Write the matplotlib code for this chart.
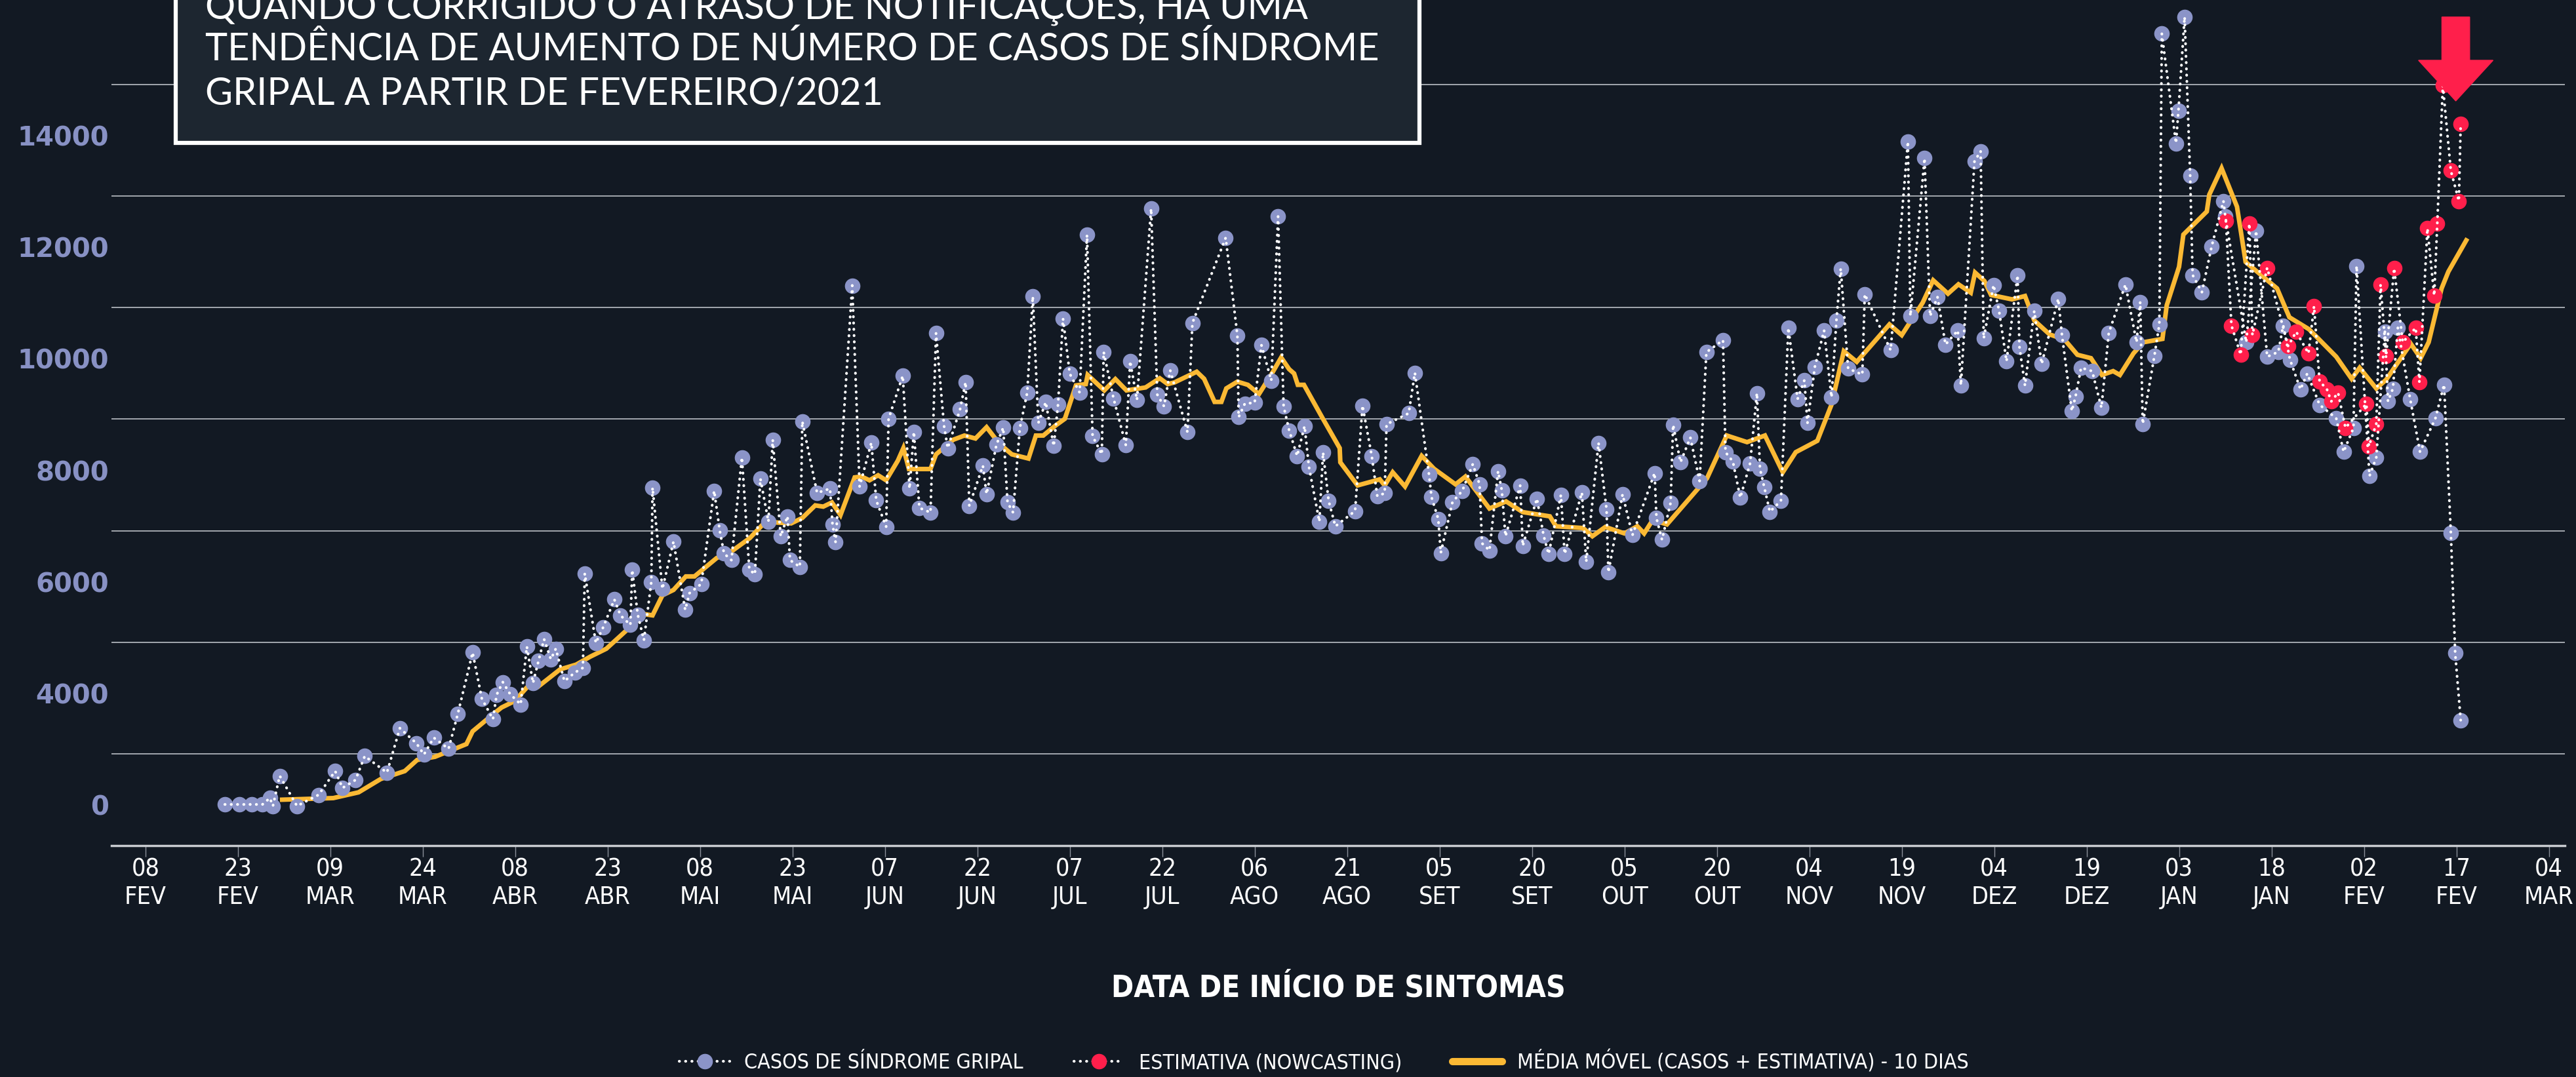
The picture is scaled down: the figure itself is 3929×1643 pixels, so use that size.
import datetime as dt
import numpy as np
import matplotlib
matplotlib.use("Agg")
import matplotlib.pyplot as plt
import matplotlib.dates as mdates
from matplotlib.lines import Line2D
from matplotlib.patches import Rectangle, FancyArrow
from matplotlib.font_manager import FontProperties

# dias contados a partir de 08/02/2020
inicio = dt.date(2020, 2, 8)

casos_dia = [12.9, 15.2, 17.3, 19.0, 20.2, 20.7, 21.8, 24.6, 28.1, 30.8, 32.0, 34.1, 35.6, 39.2, 41.3,
             44.0, 45.2, 46.8, 49.2, 50.7, 53.1, 54.6, 56.4, 57.0, 58.0, 59.2, 60.9, 61.9, 62.9, 63.8,
             64.7, 65.8, 66.6, 68.0, 69.7, 71.0, 71.3, 73.1, 74.3, 76.1, 77.1, 78.7, 79.0, 79.9, 80.9,
             82.1, 82.3, 83.9, 85.7, 87.6, 88.3,
             90.2, 92.3, 93.2, 93.9, 95.1, 96.8, 98.0, 98.9, 99.8, 101.1, 101.8, 103.1, 104.2, 104.6,
             106.2, 106.6, 109.0, 111.1, 111.5, 112.0, 114.7, 115.9, 117.8, 118.6, 120.2, 120.6, 122.9,
             124.0, 124.7, 125.6, 127.4, 128.3, 129.6, 130.2, 132.2, 133.1, 133.7, 135.9, 136.5, 138.1,
             139.2, 139.9, 140.8, 141.9, 143.1, 144.0, 144.9, 146.1, 147.4, 148.1, 148.9, 150.0, 151.6,
             152.8, 153.7, 155.2, 155.5, 157.1, 159.1, 159.8, 160.9, 163.2, 164.2, 165.3, 166.3,
             169.1, 169.9, 175.3, 177.2, 177.4, 178.4, 180.0, 181.1, 182.7, 183.8, 184.7, 185.6, 186.9,
             188.1, 188.8, 190.5, 191.1, 192.0, 193.1, 196.3, 197.5, 199.0, 199.9, 201.1, 201.4, 205.0,
             206.0, 208.3, 208.7, 209.8, 210.2, 212.1, 213.7, 215.4, 216.5, 216.9, 218.1, 219.5, 220.1,
             220.7, 223.1, 223.5, 225.8, 226.9, 227.7, 229.7, 230.3, 233.1, 233.8, 235.8, 237.1, 237.4,
             239.7, 241.3, 244.9, 245.2, 246.1,
             247.5, 247.9, 249.1, 250.7, 252.2, 253.3, 256.0, 256.4, 257.6, 258.8, 260.4, 261.5, 262.0,
             262.7, 263.6, 265.4, 266.6, 268.1, 269.2, 269.7, 270.9, 272.4, 273.6, 274.4, 275.1, 276.3,
             278.6, 279.0, 283.2, 286.0, 286.4, 288.7, 289.6, 290.8, 292.1, 294.1, 294.6, 296.8, 297.8,
             298.3, 299.9, 300.8, 302.0, 303.8, 304.1, 305.0, 306.5, 307.7, 310.4, 311.0,
             312.6, 313.2, 314.1, 315.9, 317.4, 318.6, 321.3, 323.1, 323.7, 324.1, 326.0, 326.8, 327.2,
             329.5, 329.9, 330.9, 331.8, 332.2, 333.7, 335.3, 337.2, 337.5, 340.9, 342.5, 344.3, 346.1,
             346.9, 348.0, 349.7, 350.8, 352.8, 355.5, 356.7, 358.3, 358.8, 360.9, 362.0, 363.4, 363.9,
             364.7, 365.5, 367.5, 369.1, 371.6, 373.0, 374.1, 374.8, 375.7]
casos_valor = [2013, 2013, 2013, 2013, 2127, 1985, 2526, 1985, 2184, 2611, 2309, 2452, 2879, 2583, 3380,
               3107, 2907, 3209, 3010, 3636, 4736, 3910, 3540, 3978, 4206, 3989, 3807, 4844, 4189, 4588,
               4975, 4616, 4804, 4223, 4377, 4462, 6154, 4907, 5191, 5687, 5402, 5231, 6217, 5414, 4958,
               6000, 7692, 5875, 6724, 5500, 5800,
               5965, 7636, 6924, 6511, 6392, 8235, 6227, 6137, 7853, 7081, 8550, 6819, 7179, 6392,
               6272, 8880, 7598, 7673, 7036, 6714, 11315, 7711, 8497, 7463, 6991, 8925, 9697,
               7673, 8692, 7328, 7246, 10461, 8797, 8400, 9097, 9584, 7366, 8085, 7576, 8460,
               8767, 7426, 7246, 8760, 9397, 11120, 8850, 9225, 8437, 9187, 10723, 9734, 9397,
               12222, 8617, 8288, 10124, 9292, 8452, 9959, 9262, 12694, 9359, 9149, 9794,
               8686, 10642, 12170, 10419, 8954, 9196, 9215, 10247, 9610, 12552, 9151, 8718, 8260,
               8795, 8069, 7082, 8323, 7457, 6999, 7273, 9164, 8260, 7540, 7591, 8827, 9024,
               9750, 7922, 7521, 7126, 6521, 7432, 7636, 8113, 7750, 6693, 6566, 7986, 7648,
               6820, 7731, 6648, 7495, 6827, 6502, 7559, 6502, 7604, 6362, 8495, 7304, 6171,
               7572, 6839, 7954, 7145, 6757,
               7421, 8818, 8147, 8590, 7811, 10119, 10335, 8327, 8159, 7511, 8129, 9388, 8027,
               7697, 7260, 7457, 10557, 9280, 9616, 8848, 9856, 10509, 9310, 10689, 11618, 9826,
               9718, 11157, 10155, 13896, 10767, 13596, 10767, 11109, 10257, 10509, 9526, 13536, 13722,
               10365, 11324, 10857, 9957, 11498, 10215, 9520, 10857, 9909, 11078, 10425,
               9065, 9323, 9840, 9780, 9125, 10469, 11331, 10297, 11021, 8832, 10055, 10615, 15829,
               13864, 14450, 16130, 13287, 11503, 11193, 12020, 12830, 12554, 10297, 12296, 10038, 10124,
               10598, 9987, 9452, 9737, 9176, 8935, 8332, 8763, 11667, 7901, 8229, 10486, 9237,
               9469, 10555, 9280, 8332, 8935, 9539, 6884, 4730, 3524]

estimativa_dia = [337.6, 338.5, 340.0, 341.4, 341.9, 344.3, 347.7, 349.0, 351.0, 351.9, 352.8, 354.0,
                  354.7, 355.8, 357.0, 360.4, 360.8, 362.0, 362.7, 363.6, 364.9, 366.3, 368.4, 369.0,
                  370.3, 371.4, 371.9, 372.8, 374.1, 375.4, 375.7]
estimativa_valor = [12468, 10598, 10073, 12425, 10426, 11632, 10228, 10486, 10098, 10943, 9599, 9452,
                    9237, 9392, 8763, 9194, 8436, 8832, 11331, 10055, 11624, 10297, 10555, 9582,
                    12339, 11133, 12425, 14900, 13373, 12830, 14209]

media_dia = [22.2, 30.5, 34.6, 38.2, 42.1, 44.1, 47.0, 52.1, 53.1, 56.5, 57.8, 59.9, 62.0, 63.7, 67.3,
             69.9, 72.2, 74.8, 78.2, 80.5, 82.3, 83.9, 85.7, 87.7, 89.1, 92.7, 95.3, 98.1, 100.7, 102.5,
             104.8, 106.6, 108.7, 110.0, 111.4, 112.8, 115.1, 116.2, 117.5, 118.9, 120.2, 122.1, 123.0,
             123.9, 127.4, 128.3, 131.1, 132.9, 134.7, 136.5, 138.6, 140.6, 143.3, 144.5, 145.7, 147.6,
             149.2, 151.0, 152.6, 152.9, 155.6, 157.4, 159.2, 162.3, 164.6, 165.9, 167.0, 170.6, 171.8,
             173.5, 174.6, 175.4, 177.2, 178.9, 180.7, 182.8, 184.3, 185.6, 186.4, 187.0, 188.0, 191.0,
             193.8, 193.9, 196.7, 200.3, 201.1, 202.4, 204.4, 207.1, 209.1, 212.6, 214.2, 218.1, 220.8,
             223.5, 227.9, 228.9, 233.3, 234.8, 236.9, 240.0, 242.1, 243.2, 244.6, 246.9, 253.4, 256.6,
             259.9, 262.8, 265.7, 267.8, 271.3, 273.6, 275.6, 277.7, 283.0, 285.0, 288.4, 290.1, 292.5,
             294.2, 296.2, 296.9, 298.4, 299.5, 302.9, 305.0, 306.5, 309.0, 311.4, 313.5, 315.7, 317.5,
             319.3, 320.4, 322.6, 324.2, 327.3, 328.0, 330.0, 330.7, 334.5, 334.9, 336.9, 339.4, 340.8,
             345.9, 347.9, 351.1, 355.5, 358.0, 359.3, 362.0, 363.6, 367.6, 369.2, 370.5, 372.6, 373.7,
             376.6]
media_valor = [2098, 2127, 2230, 2469, 2611, 2810, 2867, 3095, 3323, 3636, 3750, 3864, 4121, 4121, 4434,
               4519, 4662, 4804, 5146, 5431, 5402, 5761, 5858, 6100, 6100, 6429, 6564, 6789, 7089, 7066,
               7051, 7148, 7373, 7351, 7426, 7201, 7875, 7890, 7823, 7913, 7823, 8175, 8400,
               8025, 8025, 8288, 8550, 8625, 8572, 8775, 8475, 8288, 8213, 8625, 8625, 8797,
               8925, 9524, 9547, 9712, 9434, 9637, 9434, 9487, 9652, 9547, 9578, 9769, 9642,
               9228, 9228, 9470, 9591, 9534, 9368, 9737, 10024, 9814, 9737, 9534, 9534, 8941,
               8400, 8145, 7731, 7840, 7731, 7967, 7712, 8260, 8030, 7750, 7890, 7317, 7444,
               7253, 7177, 6999, 6967, 6820, 6986, 6871, 6999, 6871, 7113, 7032, 7859, 8626,
               8507, 8626, 7967, 8327, 8531, 9178, 10137, 9946, 10617, 10425, 11007, 11408, 11168,
               11336, 11186, 11546, 11396, 11144, 11066, 11126, 10689, 10437, 10347, 10073, 10012, 9711,
               9780, 9711, 10098, 10297, 10357, 10960, 11650, 12227, 12641, 12942, 13416, 12727, 11736,
               11262, 10745, 10529, 10038, 9642, 9840, 9469, 9625, 10271, 10012, 10297, 11262, 11563,
               12124]

meses = ["JAN", "FEV", "MAR", "ABR", "MAI", "JUN", "JUL", "AGO", "SET", "OUT", "NOV", "DEZ"]
y_ticks = [2000, 4000, 6000, 8000, 10000, 12000, 14000]
y_labels = ["0", "4000", "6000", "8000", "10000", "12000", "14000"]

titulo = ["QUANDO CORRIGIDO O ATRASO DE NOTIFICAÇÕES, HÁ UMA",
          "TENDÊNCIA DE AUMENTO DE NÚMERO DE CASOS DE SÍNDROME",
          "GRIPAL A PARTIR DE FEVEREIRO/2021"]

fundo = "#121923"
lilas = "#8b94c8"
vermelho = "#ff1f4b"
laranja = "#fbb934"


def estreita(size, weight="normal"):
    return FontProperties(family="DejaVu Sans", stretch="condensed", size=size, weight=weight)


W, H = 3929, 1643
fig = plt.figure(figsize=(W / 100, H / 100), dpi=100, facecolor=fundo)
ax = fig.add_axes([170 / W, 1 - 1290 / H, (3912 - 170) / W, 1290 / H])
ax.set_facecolor(fundo)

x0 = mdates.date2num(inicio)
xc = x0 + np.array(casos_dia)
xe = x0 + np.array(estimativa_dia)
xm = x0 + np.array(media_dia)

pontilhado = (0, (0.1, 2.2))
ax.plot(xm, media_valor, color=laranja, lw=5, zorder=3, solid_joinstyle="miter")
ax.plot(xc, casos_valor, ls="none", marker="o", ms=16, mfc=lilas, mec=lilas, zorder=4)
ax.plot(xe, estimativa_valor, ls="none", marker="o", ms=16, mfc=vermelho, mec=vermelho, zorder=5)
ax.plot(xc, casos_valor, color="white", lw=3, ls=pontilhado, dash_capstyle="round", zorder=6)
ax.plot(xe, estimativa_valor, color="white", lw=3, ls=pontilhado, dash_capstyle="round", zorder=6)

# seta de destaque
ax.add_patch(FancyArrow(x0 + 374.9, 16127, 0, -1504, width=4.5, head_width=12.1, head_length=728,
                        length_includes_head=True, color=vermelho, zorder=10, clip_on=False))

ax.set_xlim(x0 - 5.5, x0 + 392.6)
ax.set_ylim(1275, 16432)

for g in np.arange(2920, 15000, 2000):
    ax.axhline(g, color="#aeb2b9", lw=1.3, zorder=1)

datas = [inicio + dt.timedelta(days=15 * k) for k in range(27)]
ax.set_xticks([mdates.date2num(d) for d in datas])
ax.set_xticklabels(["%02d\n%s" % (d.day, meses[d.month - 1]) for d in datas],
                   fontproperties=estreita(27), color="white", linespacing=1.25)
ax.tick_params(axis="x", length=12, width=1, color="#8a8f99", pad=1)
ax.set_yticks(y_ticks)
ax.set_yticklabels(y_labels, family="DejaVu Sans", weight="bold", fontsize=29, color="#8891c4")
ax.tick_params(axis="y", length=0, pad=3)

for s in ["top", "right", "left"]:
    ax.spines[s].set_visible(False)
ax.spines["bottom"].set_color("#c9ccd1")
ax.spines["bottom"].set_linewidth(2.5)

ax.set_xlabel("DATA DE INÍCIO DE SINTOMAS", fontproperties=estreita(33, "bold"),
              color="white", va="center")
ax.xaxis.set_label_coords(0.5, (1290 - 1508) / 1290)

# caixa do titulo
fig.patches.append(Rectangle((268 / W, 1 - 218 / H), (2165 - 268) / W, 260 / H,
                             transform=fig.transFigure, facecolor="#1d2630", edgecolor="white",
                             lw=4.5, zorder=5))
for i, linha in enumerate(titulo):
    fig.text(313 / W, 1 - (143 - 68 * (2 - i)) / H, linha, family="Lato", fontsize=41.5,
             color="white", va="center", ha="left", zorder=6)

handles = [
    Line2D([], [], color="white", lw=3, ls=pontilhado, dash_capstyle="round", marker="o", ms=16,
           mfc=lilas, mec=lilas),
    Line2D([], [], color="white", lw=3, ls=pontilhado, dash_capstyle="round", marker="o", ms=16,
           mfc=vermelho, mec=vermelho),
    Line2D([], [], color=laranja, lw=8, solid_capstyle="round"),
]
nomes = ["CASOS DE SÍNDROME GRIPAL", "ESTIMATIVA (NOWCASTING)", "MÉDIA MÓVEL (CASOS + ESTIMATIVA) - 10 DIAS"]
fig.legend(handles, nomes, loc="center", bbox_to_anchor=(0.514, 0.014), ncol=3, frameon=False,
           prop=estreita(23), labelcolor="white", handlelength=2.4,
           columnspacing=2.4, handletextpad=0.7)

fig.savefig("out.png", dpi=100, facecolor=fundo)
